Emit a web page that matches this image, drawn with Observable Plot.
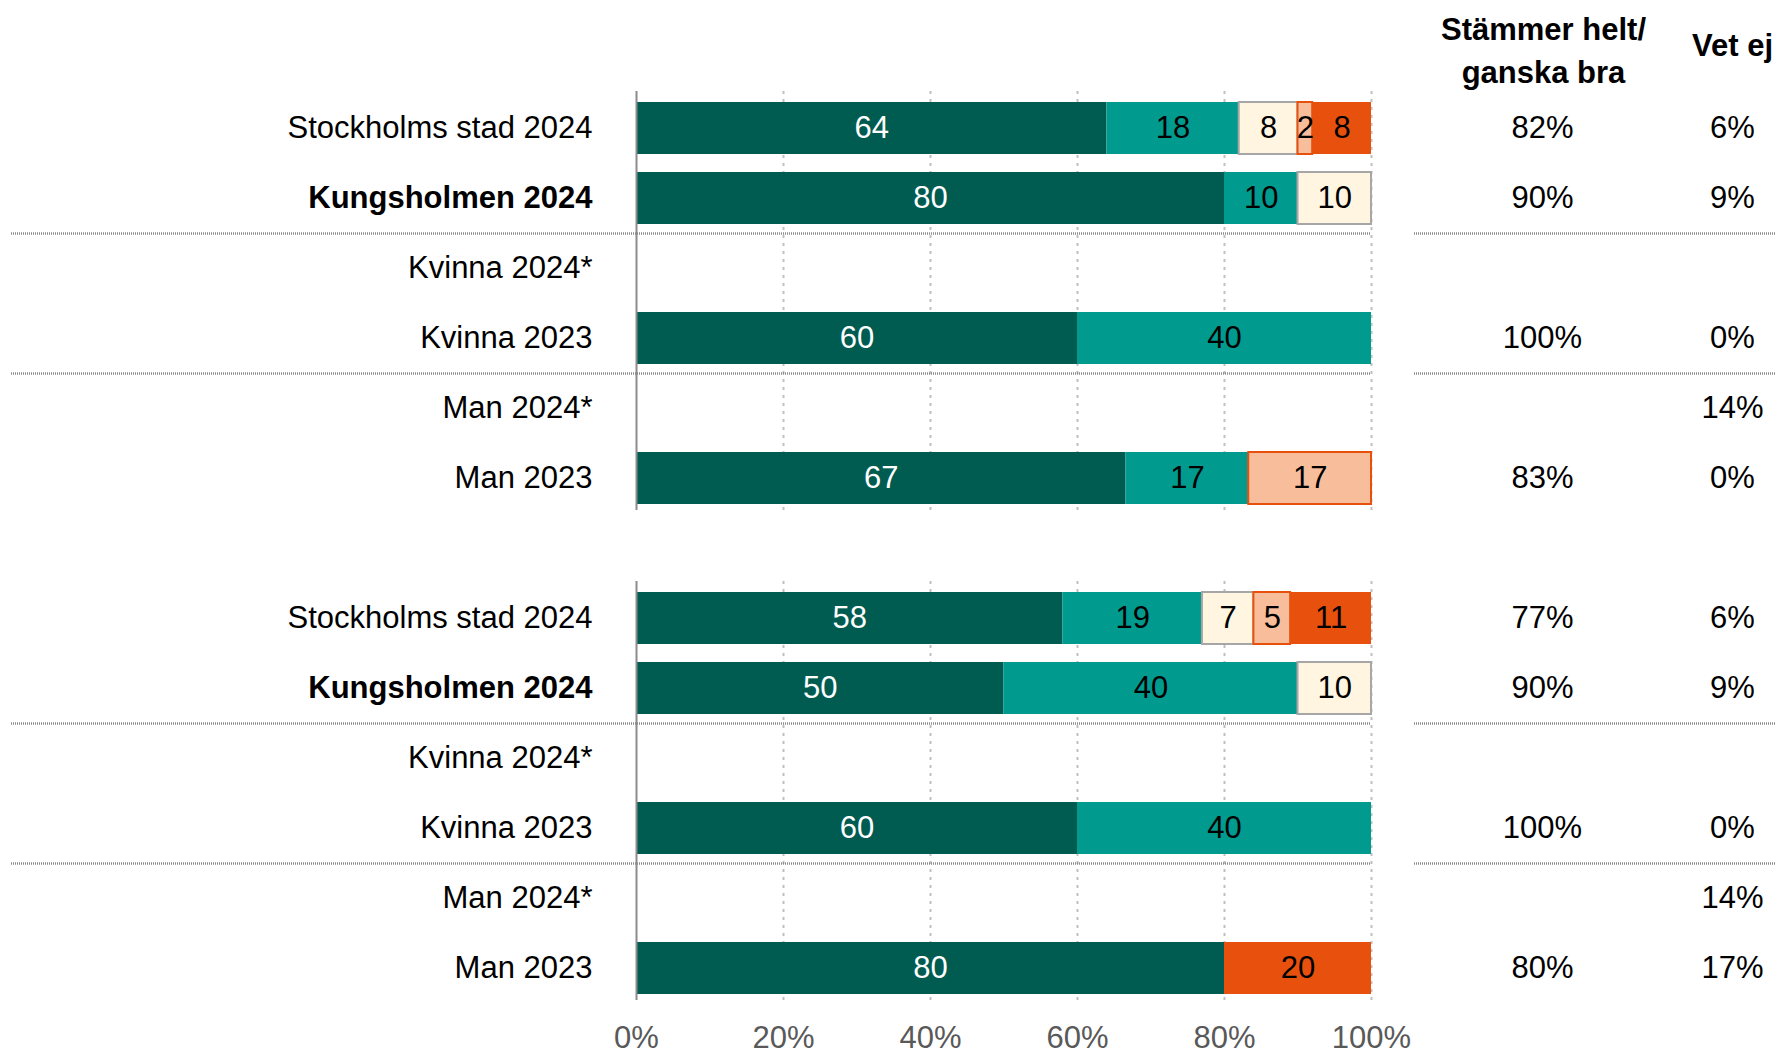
<!DOCTYPE html>
<html>
<head>
<meta charset="utf-8">
<script src="https://cdn.jsdelivr.net/npm/d3@7"></script>
<script src="https://cdn.jsdelivr.net/npm/@observablehq/plot@0.6"></script>
<style>
  html, body { margin: 0; padding: 0; background: #fff; overflow: hidden; }
  #chart svg { display: block; }
</style>
</head>
<body>
<div id="chart"></div>
<script>
// ---- data ----
const rowLabels = ["Stockholms stad 2024", "Kungsholmen 2024", "Kvinna 2024*", "Kvinna 2023", "Man 2024*", "Man 2023"];
const boldLabels = ["Kungsholmen 2024"];
const categories = ["Stämmer helt", "Stämmer ganska bra", "Neutral", "Stämmer ganska dåligt", "Stämmer helt dåligt"];
const catColors = ["#005B50", "#009A8F", "#FFF5E1", "#F8BE9C", "#E8500E"];
const catStrokes = ["none", "none", "#A6A6A6", "#E8500E", "none"];
const catTextColors = ["white", "black", "black", "black", "black"];

// values per row, in category order (null = no bar); labels show rounded values
const group1Values = [
  [64, 18, 8, 2, 8],
  [80, 10, 10, 0, 0],
  null,
  [60, 40, 0, 0, 0],
  null,
  [66.6, 16.7, 0, 16.7, 0]
];
const group2Values = [
  [58, 19, 7, 5, 11],
  [50, 40, 10, 0, 0],
  null,
  [60, 40, 0, 0, 0],
  null,
  [80, 0, 0, 0, 20]
];
const group1Agree = ["82%", "90%", "", "100%", "", "83%"];
const group1DontKnow = ["6%", "9%", "", "0%", "14%", "0%"];
const group2Agree = ["77%", "90%", "", "100%", "", "80%"];
const group2DontKnow = ["6%", "9%", "", "0%", "14%", "17%"];
const colHeaders = ["Stämmer helt/\nganska bra", "Vet ej"];
const tickValues = [0, 20, 40, 60, 80, 100];

// ---- layout ----
const W = 1776, H = 1055;
const ML = 636, MR = W - 1371, MT = 82.7, MB = 41.4;
const px = p => (p - ML) / (W - ML - MR) * 100; // pixel -> x units
const FONT = "'Liberation Sans', Arial, Helvetica, sans-serif";
const FS = 31;

const groups = [
  {key: "g1", values: group1Values, agree: group1Agree, dk: group1DontKnow},
  {key: "g2", values: group2Values, agree: group2Agree, dk: group2DontKnow}
];
const yDomain = [];
groups.forEach((g, gi) => {
  rowLabels.forEach((_, i) => yDomain.push(`${g.key}-${i}`));
  if (gi === 0) yDomain.push("spacer");
});

const segments = [];
const labels = [];
const rightCols = [];
groups.forEach(g => {
  rowLabels.forEach((lab, i) => {
    const id = `${g.key}-${i}`;
    labels.push({id, label: lab, bold: boldLabels.includes(lab)});
    rightCols.push({id, agree: g.agree[i], dk: g.dk[i]});
    const vals = g.values[i];
    if (vals) vals.forEach((v, c) => {
      if (v > 0) segments.push({id, cat: categories[c], value: v,
        stroke: catStrokes[c], textColor: catTextColors[c]});
    });
  });
});
const groupSpans = groups.map(g => ({y1: `${g.key}-0`, y2: `${g.key}-5`}));
const gridData = groupSpans.flatMap(s => tickValues.slice(1).map(t => ({...s, x: t})));
const separators = groups.flatMap(g => [`${g.key}-1`, `${g.key}-3`]).map(id => ({id}));

const chart = Plot.plot({
  width: W,
  height: H,
  marginLeft: ML,
  marginRight: MR,
  marginTop: MT,
  marginBottom: MB,
  style: {fontFamily: FONT, fontSize: FS + "px", color: "black", background: "white"},
  x: {domain: [0, 100], axis: null},
  y: {type: "band", domain: yDomain, padding: 0.26, axis: null},
  color: {domain: categories, range: catColors},
  marks: [
    // dashed vertical gridlines per group
    Plot.ruleX(gridData, {x: "x", y1: "y1", y2: "y2", stroke: "#BFBFBF", strokeWidth: 2,
      strokeDasharray: "3,5", insetTop: -11, insetBottom: -6}),
    // separators between subgroups
    Plot.ruleY(separators, {y: "id", dy: 35.1, x1: px(11), x2: 100, stroke: "#8C8C8C",
      strokeWidth: 2.5, strokeDasharray: "1,1"}),
    Plot.ruleY(separators, {y: "id", dy: 35.1, x1: px(1414), x2: px(1776), stroke: "#8C8C8C",
      strokeWidth: 2.5, strokeDasharray: "1,1"}),
    // bars
    Plot.barX(segments, Plot.stackX({x: "value", y: "id", fill: "cat", stroke: "stroke",
      strokeWidth: 2, order: null})),
    // value labels
    Plot.text(segments, Plot.stackX({x: "value", y: "id", text: d => String(Math.round(d.value)),
      fill: "textColor", fontSize: FS, order: null})),
    // zero axis line per group
    Plot.ruleX(groupSpans, {x: 0, y1: "y1", y2: "y2", stroke: "#8C8C8C", strokeWidth: 2,
      insetTop: -11, insetBottom: -6}),
    // category labels
    Plot.text(labels.filter(d => !d.bold), {x: 0, y: "id", text: "label", textAnchor: "end",
      dx: -44, fontSize: FS, fill: "black"}),
    Plot.text(labels.filter(d => d.bold), {x: 0, y: "id", text: "label", textAnchor: "end",
      dx: -44, fontSize: FS, fontWeight: "bold", fill: "black"}),
    // right columns
    Plot.text(rightCols, {x: px(1542), y: "id", text: "agree", fontSize: FS, fill: "black"}),
    Plot.text(rightCols, {x: px(1732), y: "id", text: "dk", fontSize: FS, fill: "black"}),
    // column headers
    Plot.text([colHeaders[0]], {x: px(1543), y: () => "g1-0", dy: -80.5, text: d => d,
      fontSize: FS, fontWeight: "bold", lineHeight: 1.39, fill: "black"}),
    Plot.text([colHeaders[1]], {x: px(1732), y: () => "g1-0", dy: -82, text: d => d,
      fontSize: FS, fontWeight: "bold", fill: "black"}),
    // x axis tick labels
    Plot.axisX({ticks: tickValues, tickFormat: d => d + "%", tickSize: 0, tickPadding: 12,
      fontSize: FS, fill: "#595959", anchor: "bottom"})
  ]
});
document.getElementById("chart").appendChild(chart);
</script>
</body>
</html>
